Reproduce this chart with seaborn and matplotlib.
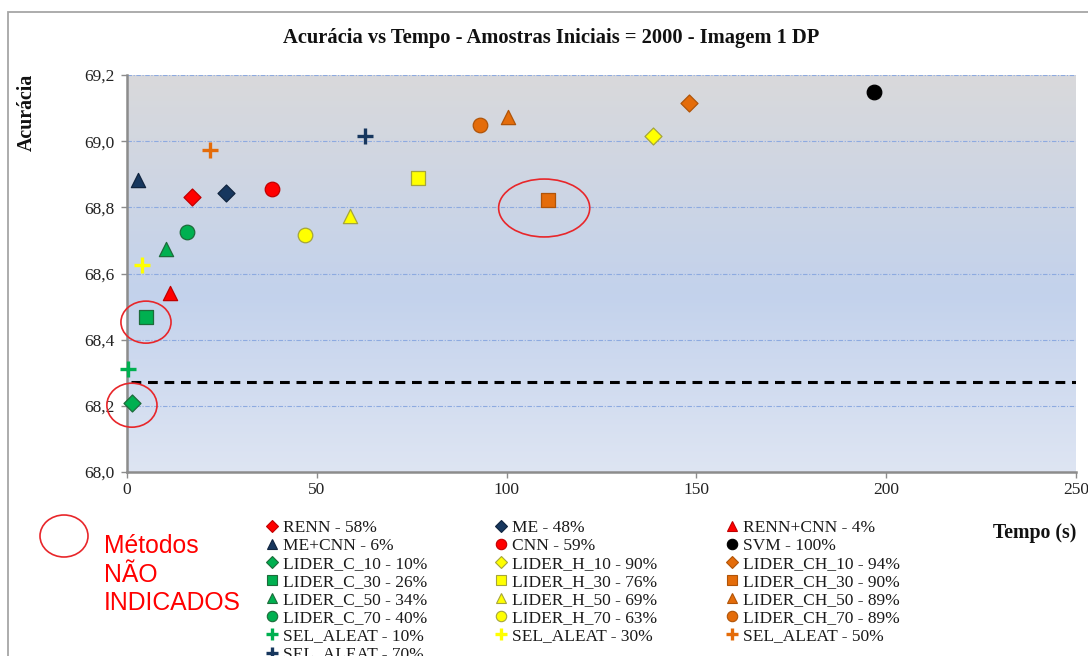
import numpy as np
import pandas as pd
import matplotlib
matplotlib.use("Agg")
import matplotlib.pyplot as plt
import seaborn as sns
from matplotlib.patches import Ellipse, Rectangle
from matplotlib.lines import Line2D
from matplotlib.font_manager import FontProperties
from matplotlib.colors import LinearSegmentedColormap
from matplotlib.ticker import FuncFormatter

# ---- data -------------------------------------------------------------
metodos = ["RENN", "ME", "RENN+CNN",
           "ME+CNN", "CNN", "SVM",
           "LIDER_C_10", "LIDER_H_10", "LIDER_CH_10",
           "LIDER_C_30", "LIDER_H_30", "LIDER_CH_30",
           "LIDER_C_50", "LIDER_H_50", "LIDER_CH_50",
           "LIDER_C_70", "LIDER_H_70", "LIDER_CH_70",
           "SEL_ALEAT", "SEL_ALEAT", "SEL_ALEAT",
           "SEL_ALEAT"]
percentuais = [58, 48, 4,
               6, 59, 100,
               10, 90, 94,
               26, 76, 90,
               34, 69, 89,
               40, 63, 89,
               10, 30, 50,
               70]
tempos = [17.1, 26.1, 11.3,
          2.9, 38.2, 196.8,
          1.3, 138.6, 148.1,
          5.0, 76.7, 110.9,
          10.3, 58.7, 100.4,
          15.8, 46.9, 93.0,
          0.3, 4.0, 21.9,
          62.7]
acuracias = [68.831, 68.843, 68.541,
             68.883, 68.855, 69.149,
             68.210, 69.016, 69.115,
             68.469, 68.889, 68.822,
             68.674, 68.774, 69.073,
             68.725, 68.716, 69.049,
             68.311, 68.626, 68.973,
             69.016]
linha_referencia = 68.272
nao_indicados = ["LIDER_C_10", "LIDER_C_30", "LIDER_CH_30"]

xticks = [0, 50, 100, 150, 200, 250]
yticks = [68.0, 68.2, 68.4, 68.6, 68.8, 69.0, 69.2]

# ---- styles -----------------------------------------------------------
RED, NAVY, BLACK = "#FF0000", "#17375E", "#000000"
GREEN, YELLOW, ORANGE = "#00B050", "#FFFF00", "#E46C0A"
EDGE = {RED: "#C00000", NAVY: "#10243F", BLACK: "#000000",
        GREEN: "#1D6B3A", YELLOW: "#A5A53C", ORANGE: "#B05408"}
cores = [RED, NAVY, RED,
         NAVY, RED, BLACK,
         GREEN, YELLOW, ORANGE,
         GREEN, YELLOW, ORANGE,
         GREEN, YELLOW, ORANGE,
         GREEN, YELLOW, ORANGE,
         GREEN, YELLOW, ORANGE,
         NAVY]
marcadores = ["D", "D", "^",
              "^", "o", "o",
              "D", "D", "D",
              "s", "s", "s",
              "^", "^", "^",
              "o", "o", "o",
              "+", "+", "+",
              "+"]
tamanho = {"D": 75, "^": 105, "o": 110, "s": 95, "+": 135}

df = pd.DataFrame({"metodo": metodos, "pct": percentuais,
                   "tempo": tempos, "acuracia": acuracias})
df["rotulo"] = [f"{m} - {p}%" for m, p in zip(metodos, percentuais)]

W, H = 1088, 656
fig = plt.figure(figsize=(W / 100, H / 100), dpi=100)
fig.patch.set_facecolor("white")
serif = "Liberation Serif"

ax = fig.add_axes([127 / W, 1 - 472 / H, 949 / W, 397 / H])
ax.set_xlim(0, 250)
ax.set_ylim(68.0, 69.2)

# vertical gradient background of the plot area
grad = LinearSegmentedColormap.from_list(
    "fundo", [(0.0, "#DEE5F3"), (0.45, "#C3D2EC"), (1.0, "#D9D9DB")])
ax.imshow(np.linspace(0, 1, 256).reshape(-1, 1), cmap=grad, origin="lower",
          extent=[0, 250, 68.0, 69.2], aspect="auto", zorder=0,
          interpolation="bicubic")

for spine in ["top", "right"]:
    ax.spines[spine].set_visible(False)
for spine in ["left", "bottom"]:
    ax.spines[spine].set_color("#8C8C8C")
    ax.spines[spine].set_linewidth(1.8)
    ax.spines[spine].set_zorder(3)

ax.set_yticks(yticks)
ax.set_xticks(xticks)
ax.yaxis.set_major_formatter(FuncFormatter(lambda v, _: f"{v:.1f}".replace(".", ",")))
ax.tick_params(axis="both", direction="out", length=4, width=1,
               color="#8C8C8C", labelsize=12.5, labelcolor="#222222")
ax.tick_params(axis="y", pad=5)
ax.tick_params(axis="x", pad=3)
for lab in ax.get_xticklabels() + ax.get_yticklabels():
    lab.set_family(serif)

for yv in yticks[1:]:
    ax.axhline(yv, color="#8DAAE0", lw=0.8, ls=(0, (4, 1.5, 1, 1.5)), zorder=1)

ax.axhline(linha_referencia, xmin=0.004, color="black", lw=2.2,
           ls=(0, (3.2, 2.2)), zorder=2)

# scatter points
for i, row in df.iterrows():
    m, c = marcadores[i], cores[i]
    if m == "+":
        sns.scatterplot(x=[row.tempo], y=[row.acuracia], ax=ax, marker="+",
                        color=c, s=tamanho[m], linewidth=2.4, zorder=4,
                        clip_on=False, legend=False)
    else:
        sns.scatterplot(x=[row.tempo], y=[row.acuracia], ax=ax, marker=m,
                        color=c, edgecolor=EDGE[c], s=tamanho[m], linewidth=0.9,
                        zorder=4, clip_on=False, legend=False)
ax.set_xlabel("")
ax.set_ylabel("")

# red ellipses around the methods not indicated
elipses = {"LIDER_C_10": (0.0, -0.008, 13.2, 0.133),
           "LIDER_C_30": (0.0, -0.016, 13.2, 0.127),
           "LIDER_CH_30": (-1.0, -0.024, 24.0, 0.175)}
for nome in nao_indicados:
    r = df[df.metodo == nome].iloc[0]
    dx, dy, w, h = elipses[nome]
    ax.add_patch(Ellipse((r.tempo + dx, r.acuracia + dy), w, h, fill=False,
                         edgecolor="#E8262A", lw=1.2, zorder=5, clip_on=False))

# titles and axis labels
fig.text(551 / W, 1 - 38 / H, "Acurácia vs Tempo - Amostras Iniciais = 2000 - Imagem 1 DP",
         ha="center", va="center", fontsize=14.8, fontweight="bold", family=serif,
         color="#111111")
fig.text(27 / W, 1 - 112 / H, "Acurácia", rotation=90, ha="center", va="center",
         fontsize=14.3, fontweight="bold", family=serif, color="#111111")
fig.text(1035 / W, 1 - 533 / H, "Tempo (s)", ha="center", va="center",
         fontsize=14.3, fontweight="bold", family=serif, color="#111111")

# legend, three columns laid out row by row
prop = FontProperties(family=serif, size=12.5)
colunas_x = [272, 501, 732]
for c in range(3):
    idx = [i for i in range(len(metodos)) if i % 3 == c]
    handles = []
    for i in idx:
        m, col = marcadores[i], cores[i]
        if m == "+":
            handles.append(Line2D([], [], ls="none", marker="+", color=col,
                                  markersize=9, markeredgewidth=2.4))
        else:
            handles.append(Line2D([], [], ls="none", marker=m, color=col,
                                  markeredgecolor=EDGE[col], markeredgewidth=0.8,
                                  markersize=7.5 if m != "D" else 6.5))
    labels = [df.rotulo[i] for i in idx]
    fig.legend(handles, labels, loc="upper left",
               bbox_to_anchor=((colunas_x[c] - 5.2) / W, 1 - 520 / H),
               bbox_transform=fig.transFigure, frameon=False, prop=prop,
               handlelength=0.6, handletextpad=0.33, borderpad=0,
               borderaxespad=0, labelspacing=0.11, labelcolor="#1A1A1A")

# legend note about the ellipses
fig.add_artist(Ellipse((64 / W, 1 - 536 / H), 48 / W, 42 / H,
                       transform=fig.transFigure, fill=False,
                       edgecolor="#E8262A", lw=1.2))
for texto, base in [("Métodos", 553), ("NÃO", 582), ("INDICADOS", 610)]:
    fig.text(104 / W, 1 - base / H, texto, ha="left", va="baseline",
             fontsize=17.8, family="Liberation Sans", color="#FF0000")

# outer chart frame
fig.add_artist(Rectangle((8 / W, -0.2), 1.5, 1.2 - 12 / H,
                         transform=fig.transFigure, fill=False,
                         edgecolor="#A6A6A6", lw=1.3))

fig.savefig("out.png", dpi=100)
